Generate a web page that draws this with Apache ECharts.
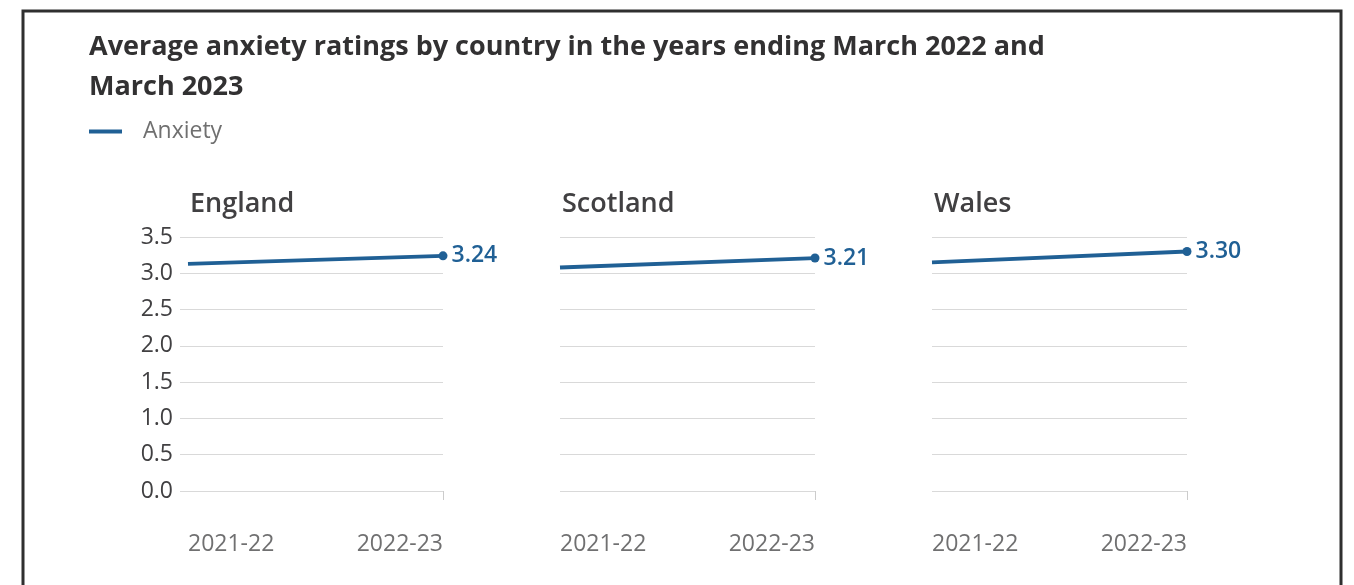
<!DOCTYPE html>
<html>
<head>
<meta charset="utf-8">
<script src="https://cdn.jsdelivr.net/npm/echarts@6/dist/echarts.min.js"></script>
<style>
html,body{margin:0;padding:0;background:#fff;}
#chart{width:1354px;height:585px;}
</style>
</head>
<body>
<div id="chart"></div>
<script>
const categories = ['2021-22', '2022-23'];
const countries = ['England', 'Scotland', 'Wales'];
const england = [3.13, 3.24];
const scotland = [3.08, 3.21];
const wales = [3.15, 3.30];
const seriesValues = [england, scotland, wales];
const yTicks = { min: 0, max: 3.5, interval: 0.5 };

const FONT = '"Open Sans", "Noto Sans", sans-serif';
const BLUE = '#206095';
const gridLefts = [188, 560, 932];
const gridWidth = 255;

const grids = [], xAxes = [], yAxes = [], series = [], titles = [];
titles.push({
  text: 'Average anxiety ratings by country in the years ending March 2022 and\nMarch 2023',
  left: 89, top: 27, padding: 0,
  textStyle: { fontFamily: FONT, fontSize: 27, fontWeight: 'bold', color: '#323132', lineHeight: 40 }
});
countries.forEach((c, i) => {
  titles.push({
    text: c, left: gridLefts[i] + 2, top: 191, padding: 0,
    textStyle: { fontFamily: FONT, fontSize: 27, fontWeight: 600, color: '#414042' }
  });
  grids.push({ left: gridLefts[i], width: gridWidth, top: 237, bottom: 94, containLabel: false });
  xAxes.push({
    type: 'category', gridIndex: i, data: categories, boundaryGap: false,
    axisLine: { show: false },
    axisTick: { show: true, length: 9, interval: (idx) => idx === categories.length - 1, lineStyle: { color: '#cccccc' } },
    axisLabel: { margin: 42, fontFamily: FONT, fontSize: 23, color: '#707071', alignMinLabel: 'left', alignMaxLabel: 'right', interval: 0 }
  });
  yAxes.push({
    type: 'value', gridIndex: i, min: yTicks.min, max: yTicks.max, interval: yTicks.interval,
    axisLine: { show: false },
    axisTick: { show: i === 0, length: 8, lineStyle: { color: '#d9d9d9' } },
    axisLabel: { show: i === 0, margin: 15, fontFamily: FONT, fontSize: 23, color: '#414042', formatter: v => v.toFixed(1) },
    splitLine: { lineStyle: { color: '#d9d9d9', width: 1 } }
  });
  series.push({
    name: 'Anxiety', type: 'line', xAxisIndex: i, yAxisIndex: i,
    data: seriesValues[i],
    symbol: 'circle',
    symbolSize: (v, p) => p.dataIndex === seriesValues[i].length - 1 ? 9 : 0,
    lineStyle: { color: BLUE, width: 3.8 },
    itemStyle: { color: BLUE },
    label: {
      show: true, position: 'right', distance: 4,
      fontFamily: FONT, fontSize: 23, fontWeight: 600, color: BLUE,
      formatter: p => p.dataIndex === seriesValues[i].length - 1 ? p.value.toFixed(2) : ''
    },
    emphasis: { disabled: true },
    animation: false
  });
});

const chart = echarts.init(document.getElementById('chart'));
chart.setOption({
  animation: false,
  title: titles,
  legend: {
    data: ['Anxiety'], left: 89, top: 120, padding: 0,
    icon: 'rect', itemWidth: 33, itemHeight: 4,
    textStyle: { fontFamily: FONT, fontSize: 23, color: '#707070', padding: [0, 0, 0, 16] },
    selectedMode: false
  },
  grid: grids, xAxis: xAxes, yAxis: yAxes, series: series,
  graphic: [{
    type: 'rect', silent: true,
    shape: { x: 23, y: 11, width: 1318, height: 620 },
    style: { fill: 'none', stroke: '#2f2f2f', lineWidth: 3 }
  }]
});
</script>
</body>
</html>
